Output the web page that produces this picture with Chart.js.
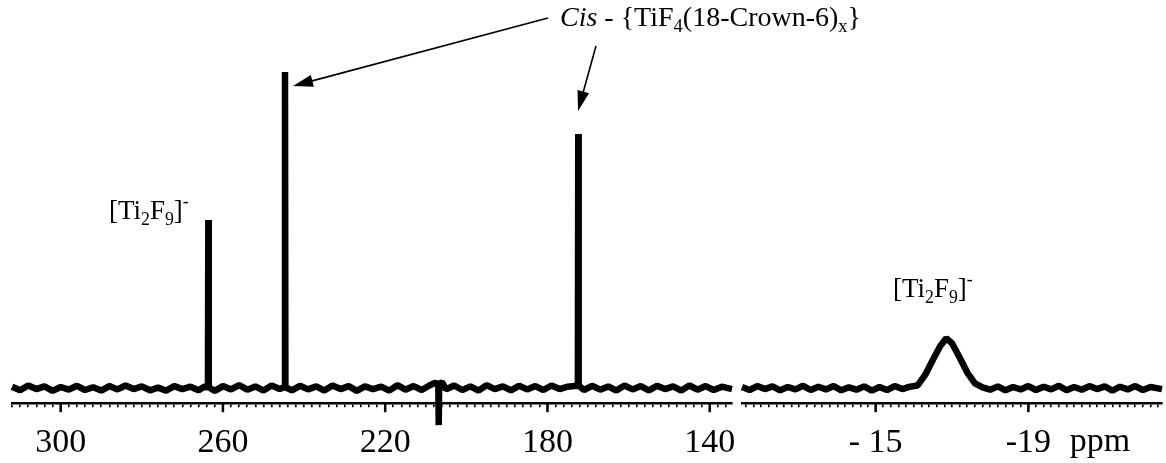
<!DOCTYPE html>
<html>
<head>
<meta charset="utf-8">
<script src="https://cdn.jsdelivr.net/npm/chart.js@4.4.1/dist/chart.umd.min.js"></script>
<style>
  body { margin: 0; background: #fff; }
  #wrap { position: relative; width: 1166px; height: 463px; overflow: hidden; }
  canvas { position: absolute; top: 0; }
</style>
</head>
<body>
<div id="wrap">
  <canvas id="leftChart" width="1166" height="478" style="left:0"></canvas>
  <canvas id="rightChart" width="426" height="478" style="left:740px"></canvas>
</div>
<script>
// spectrum: [ppm, intensity], baseline = 0
var leftSpectrum = [
  [312,0.5],[310,-0.7],[308,0.9],[306,-0.3],[304,0.6],[302,-0.9],[300,0.4],[298,-0.5],
  [296,0.8],[294,-0.6],[292,0.3],[290,-0.8],[288,0.7],[286,-0.4],[284,0.9],[282,-0.3],
  [280,0.6],[278,-0.7],[276,0.2],[274,-0.8],[272,0.7],[270,-0.3],[268,0.5],[266,-0.7],
  [264.5,0.6],[263.7,0.2],[263.6,56],[263.5,0.3],[262,-0.9],[260,0.7],[258,-0.4],[256,1.0],
  [254,-0.5],[252,0.6],[250,-0.8],[248,0.9],[246,-0.3],[244.8,0.4],[244.7,105.3],[244.6,0.3],
  [243,-0.7],[241,0.8],[239,-0.4],[237,0.6],[235,-0.8],[233,0.9],[231,-0.3],[229,0.7],
  [227,-0.9],[225,0.6],[223,-0.3],[221,0.5],[219,-0.8],[217,1.0],[215,-0.5],[213,0.7],
  [211,-0.6],[209,1.0],[207.6,1.8],[206.9,1.2],[206.8,-12.3],[206.7,1.4],[206.0,2.0],[205,-0.4],
  [203,0.9],[201,-0.6],[199,0.6],[197,-0.8],[195,1.0],[193,-0.3],[191,0.6],[189,-0.7],
  [187,0.8],[185,-0.4],[183,0.7],[181,-0.6],[179,0.9],[177,-0.3],[175,0.5],[173.4,0.7],
  [172.5,0.8],[172.4,84.7],[172.3,0.9],[171,-0.6],[169,0.8],[167,-0.5],[165,0.6],[163,-0.8],
  [161,0.9],[159,-0.4],[157,0.7],[155,-0.7],[153,0.8],[151,-0.3],[149,0.6],[147,-0.8],
  [145,0.9],[143,-0.5],[141,0.7],[139,-0.6],[137,0.5],[134.5,-0.3]
];
var rightSpectrum = [
  [-11.5,0.4],[-11.7,-0.6],[-11.9,0.7],[-12.1,-0.3],[-12.3,0.6],[-12.5,-0.7],[-12.7,0.4],
  [-12.9,-0.4],[-13.1,0.8],[-13.3,-0.6],[-13.5,0.5],[-13.7,-0.4],[-13.9,0.7],[-14.1,-0.7],
  [-14.3,0.3],[-14.5,-0.5],[-14.7,0.6],[-14.9,-0.8],[-15.1,0.4],[-15.3,-0.6],[-15.5,0.7],
  [-15.7,-0.3],[-15.9,0.5],[-16.1,0.9],[-16.3,4.5],[-16.5,9.5],[-16.7,14.2],[-16.85,16.6],
  [-17.0,15.0],[-17.2,10.2],[-17.4,5.2],[-17.6,1.6],[-17.8,0.3],[-18.0,-0.5],[-18.2,0.6],
  [-18.4,-0.7],[-18.6,0.4],[-18.8,-0.4],[-19.0,0.7],[-19.2,-0.6],[-19.4,0.5],[-19.6,-0.4],
  [-19.8,0.8],[-20.0,-0.7],[-20.2,0.4],[-20.4,-0.5],[-20.6,0.7],[-20.8,-0.3],[-21.0,0.6],
  [-21.2,-0.8],[-21.4,0.5],[-21.6,-0.4],[-21.8,0.7],[-22.0,-0.6],[-22.2,0.4],[-22.5,-0.3]
];
var leftTickLabels = [300, 260, 220, 180, 140];
var rightTickLabels = [-15, -19];
var rightTickText = ["- 15", "-19"];

var SERIF = '"Liberation Serif", "Times New Roman", serif';

function isLabel(v, list) {
  for (var i = 0; i < list.length; i++) if (Math.abs(v - list[i]) < 1e-6) return i;
  return -1;
}

function drawRich(ctx, x, y, parts, size) {
  ctx.fillStyle = '#000';
  ctx.textBaseline = 'alphabetic';
  ctx.textAlign = 'left';
  parts.forEach(function (p) {
    var fs = size, dy = 0, style = '';
    if (p.sub) { fs = size * 0.66; dy = size * 0.22; }
    if (p.sup) { fs = size * 0.66; dy = -size * 0.45; }
    if (p.it) style = 'italic ';
    ctx.font = style + fs + 'px ' + SERIF;
    ctx.fillText(p.t, x, y + dy);
    x += ctx.measureText(p.t).width;
  });
}

function arrow(ctx, x1, y1, x2, y2) {
  var a = Math.atan2(y2 - y1, x2 - x1), len = 20, hw = 6;
  ctx.strokeStyle = '#000';
  ctx.fillStyle = '#000';
  ctx.lineWidth = 1.6;
  ctx.beginPath();
  ctx.moveTo(x1, y1);
  ctx.lineTo(x2 - Math.cos(a) * len * 0.8, y2 - Math.sin(a) * len * 0.8);
  ctx.stroke();
  ctx.beginPath();
  ctx.moveTo(x2, y2);
  ctx.lineTo(x2 - Math.cos(a) * len + Math.sin(a) * hw, y2 - Math.sin(a) * len - Math.cos(a) * hw);
  ctx.lineTo(x2 - Math.cos(a) * len - Math.sin(a) * hw, y2 - Math.sin(a) * len + Math.cos(a) * hw);
  ctx.closePath();
  ctx.fill();
}

var ti2f9 = [{t: '[Ti'}, {t: '2', sub: true}, {t: 'F'}, {t: '9', sub: true}, {t: ']'}, {t: '-', sup: true}];

// longer marks at the labelled ticks
var majorTicks = {
  id: 'majorTicks',
  afterDraw: function (chart, args, opts) {
    var s = chart.scales.x, ctx = chart.ctx;
    ctx.save();
    ctx.strokeStyle = '#000';
    ctx.lineWidth = 2.5;
    opts.values.forEach(function (v) {
      var px = s.getPixelForValue(v);
      ctx.beginPath();
      ctx.moveTo(px, s.top);
      ctx.lineTo(px, s.top + 9);
      ctx.stroke();
    });
    ctx.restore();
  }
};

function makePanel(id, spectrum, xMin, xMax, tickValues, labels, labelText, padding, notes) {
  return new Chart(document.getElementById(id), {
    type: 'line',
    data: {
      datasets: [{
        data: spectrum.map(function (p) { return {x: p[0], y: p[1]}; }),
        borderColor: '#000',
        borderWidth: 6.5,
        borderJoinStyle: 'bevel',
        pointRadius: 0,
        tension: 0,
        fill: false,
        clip: false
      }]
    },
    options: {
      responsive: false,
      animation: false,
      events: [],
      layout: {padding: padding},
      plugins: {
        legend: {display: false},
        tooltip: {enabled: false},
        majorTicks: {values: labels}
      },
      scales: {
        x: {
          type: 'linear',
          reverse: true,
          min: xMin,
          max: xMax,
          afterBuildTicks: function (scale) {
            scale.ticks = tickValues.map(function (v) { return {value: v}; });
          },
          ticks: {
            autoSkip: false,
            maxRotation: 0,
            padding: 15,
            color: '#000',
            font: {family: SERIF, size: 34},
            callback: function (value) {
              var i = isLabel(value, labels);
              return i < 0 ? '' : labelText[i];
            }
          },
          grid: {display: true, drawOnChartArea: false, drawTicks: true, tickLength: 4, color: '#000', lineWidth: 1.6},
          border: {display: true, color: '#000', width: 2.5}
        },
        y: {display: false, min: -5, max: 110}
      }
    },
    plugins: [majorTicks, notes]
  });
}

var leftTicks = [];
for (var v = 136; v <= 312; v += 2) leftTicks.push(v);
var rightTicks = [];
for (var k = -112; k <= -58; k++) rightTicks.push(k / 5);

makePanel('leftChart', leftSpectrum, 134.5, 312, leftTicks, leftTickLabels,
  leftTickLabels.map(function (n) { return String(n); }),
  {top: 58, bottom: 0, left: 12, right: 434}, {
    id: 'leftNotes',
    afterDraw: function (chart) {
      var ctx = chart.ctx;
      ctx.save();
      drawRich(ctx, 109, 219, ti2f9, 27);
      drawRich(ctx, 560, 26, [{t: 'Cis', it: true}, {t: ' - {TiF'}, {t: '4', sub: true},
        {t: '(18-Crown-6)'}, {t: 'x', sub: true}, {t: '}'}], 28);
      arrow(ctx, 548, 18, 293, 86);
      arrow(ctx, 596, 46, 578, 111);
      ctx.restore();
    }
  });

makePanel('rightChart', rightSpectrum, -22.5, -11.5, rightTicks, rightTickLabels,
  rightTickText, {top: 58, bottom: 0, left: 2, right: 4}, {
    id: 'rightNotes',
    afterDraw: function (chart) {
      var ctx = chart.ctx, s = chart.scales.x;
      ctx.save();
      drawRich(ctx, 153, 297, ti2f9, 27);
      ctx.font = '34px ' + SERIF;
      ctx.textAlign = 'center';
      ctx.textBaseline = 'top';
      ctx.fillStyle = '#000';
      ctx.fillText('ppm', 360, s.top + 4 + 18);
      ctx.restore();
    }
  });
</script>
</body>
</html>
